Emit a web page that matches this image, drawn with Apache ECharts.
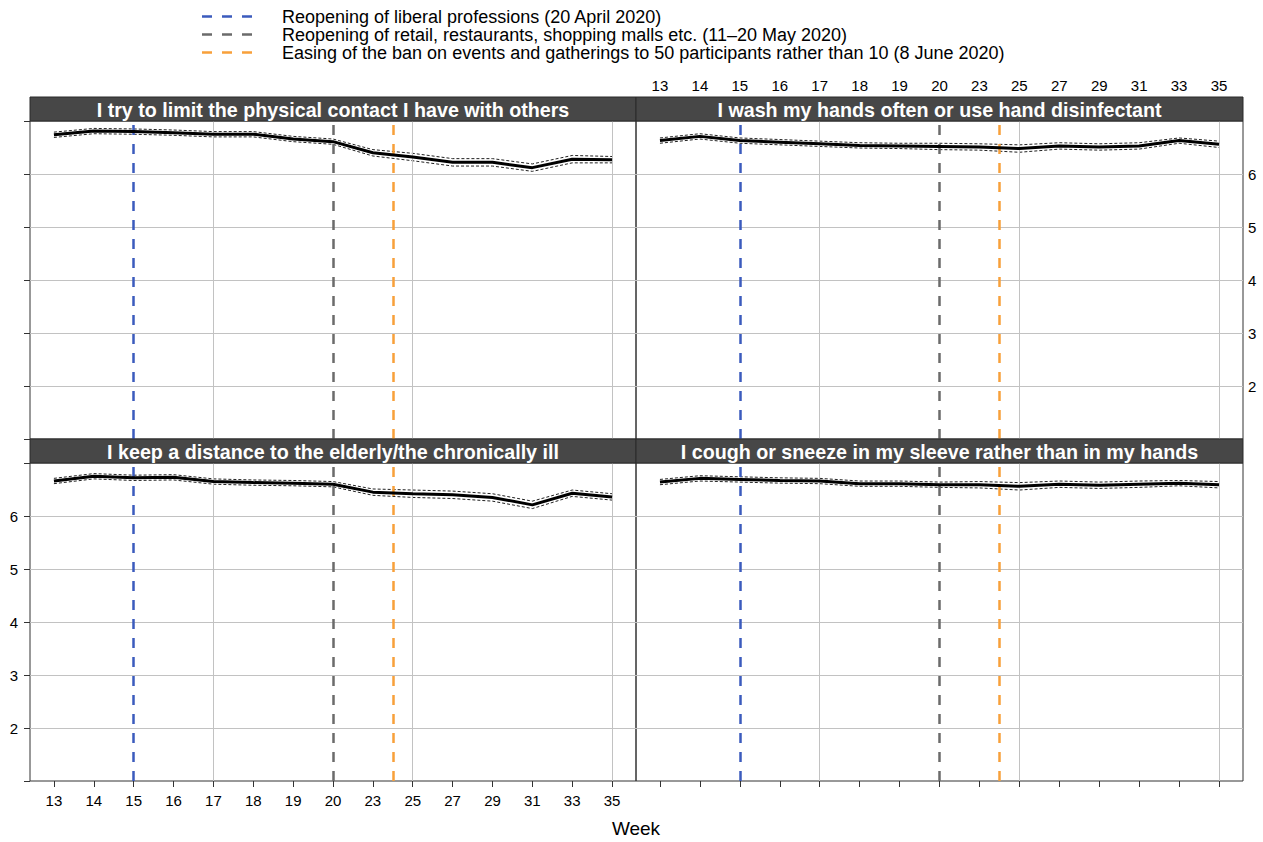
<!DOCTYPE html>
<html>
<head>
<meta charset="utf-8">
<script src="https://cdn.jsdelivr.net/npm/echarts@6/dist/echarts.min.js"></script>
<style>
html,body{margin:0;padding:0;background:#fff;}
#chart{width:1263px;height:842px;}
</style>
</head>
<body>
<div id="chart"></div>
<script>
// ---------- data ----------
const weeks = ['13','14','15','16','17','18','19','20','23','25','27','29','31','33','35'];

const panelTitles = [
  'I try to limit the physical contact I have with others',
  'I wash my hands often or use hand disinfectant',
  'I keep a distance to the elderly/the chronically ill',
  'I cough or sneeze in my sleeve rather than in my hands'
];

const physicalContact   = [6.74, 6.81, 6.80, 6.78, 6.75, 6.75, 6.66, 6.61, 6.40, 6.32, 6.22, 6.22, 6.12, 6.28, 6.27];
const physicalContactCI = [0.05, 0.05, 0.05, 0.05, 0.05, 0.05, 0.05, 0.05, 0.06, 0.07, 0.07, 0.07, 0.07, 0.07, 0.06];

const washHands   = [6.63, 6.71, 6.63, 6.60, 6.57, 6.54, 6.53, 6.52, 6.51, 6.48, 6.53, 6.51, 6.53, 6.63, 6.56];
const washHandsCI = [0.05, 0.05, 0.05, 0.05, 0.05, 0.05, 0.05, 0.06, 0.06, 0.07, 0.06, 0.06, 0.06, 0.05, 0.06];

const keepDistance   = [6.66, 6.75, 6.72, 6.73, 6.65, 6.63, 6.62, 6.60, 6.45, 6.42, 6.40, 6.35, 6.21, 6.43, 6.36];
const keepDistanceCI = [0.05, 0.05, 0.05, 0.05, 0.05, 0.05, 0.05, 0.05, 0.06, 0.07, 0.07, 0.07, 0.07, 0.06, 0.06];

const coughSleeve   = [6.64, 6.71, 6.69, 6.67, 6.66, 6.61, 6.61, 6.59, 6.59, 6.56, 6.60, 6.58, 6.60, 6.62, 6.59];
const coughSleeveCI = [0.05, 0.05, 0.05, 0.05, 0.05, 0.05, 0.05, 0.05, 0.06, 0.07, 0.06, 0.06, 0.06, 0.05, 0.06];

const eventNames = [
  'Reopening of liberal professions (20 April 2020)',
  'Reopening of retail, restaurants, shopping malls etc. (11\u201320 May 2020)',
  'Easing of the ban on events and gatherings to 50 participants rather than 10 (8 June 2020)'
];
// event positions on the week-index axis (week 15, week 20, week 24 = between 23 and 25)
const eventX = [3, 8, 9.5];
// vertical reference grid on the week-index axis
const xGridAt = [5, 10, 15];

// ---------- styling / layout ----------
const FONT = '"Liberation Sans", Arial, Helvetica, sans-serif';
const eventColors = ['#3b5bbd', '#6b6b6b', '#f8a03a'];
const gridColor = '#c2c2c2';
const panels = [
  {left: 30, top: 121, width: 606, height: 318},
  {left: 636, top: 121, width: 607, height: 318},
  {left: 30, top: 463, width: 606, height: 318},
  {left: 636, top: 463, width: 607, height: 318}
];
const seriesData = [
  [physicalContact, physicalContactCI],
  [washHands, washHandsCI],
  [keepDistance, keepDistanceCI],
  [coughSleeve, coughSleeveCI]
];
const idx = weeks.map((w, i) => i + 1);
const STRIP_H = 24;

const grid = panels.map(p => ({
  left: p.left, top: p.top, width: p.width, height: p.height,
  show: true, borderColor: '#333', borderWidth: 1, backgroundColor: 'transparent',
  containLabel: false
}));

const xAxis = panels.map((p, i) => ({
  gridIndex: i, type: 'value', min: 0.4, max: 15.6,
  position: i === 1 ? 'top' : 'bottom',
  axisLine: {show: false},
  axisTick: {show: i >= 2, length: 6, lineStyle: {color: '#333', width: 1}, customValues: idx},
  axisLabel: {
    show: i === 1 || i === 2, customValues: idx,
    formatter: v => weeks[Math.round(v) - 1] || '',
    margin: i === 1 ? 28 : 12, fontSize: 15, color: '#000', fontFamily: FONT
  },
  splitLine: {show: false}
}));

const yAxis = panels.map((p, i) => ({
  gridIndex: i, type: 'value', min: 1, max: 7, interval: 1,
  position: (i === 1 || i === 3) ? 'right' : 'left',
  axisLine: {show: false},
  axisTick: {show: i === 0 || i === 2, length: 6, lineStyle: {color: '#333', width: 1}},
  axisLabel: {
    show: i === 1 || i === 2,
    formatter: v => (v <= 1 || v >= 7) ? '' : String(v),
    margin: i === 1 ? 5 : 12, fontSize: 15, color: '#000', fontFamily: FONT
  },
  splitLine: {show: true, showMinLine: false, showMaxLine: false, lineStyle: {color: gridColor, width: 1}}
}));

const series = [];
panels.forEach((p, i) => {
  const [vals, ci] = seriesData[i];
  // reference lines (grid + events)
  series.push({
    type: 'line', xAxisIndex: i, yAxisIndex: i, data: [], silent: true, z: 1,
    markLine: {
      silent: true, symbol: 'none', animation: false,
      label: {show: false},
      data: xGridAt.map(x => ({xAxis: x, lineStyle: {color: gridColor, width: 1, type: 'solid'}}))
        .concat(eventX.map((x, k) => ({xAxis: x, lineStyle: {color: eventColors[k], width: 2.5, type: [10, 9]}})))
    }
  });
  series.push({
    type: 'line', xAxisIndex: i, yAxisIndex: i, silent: true, z: 4, symbol: 'none', animation: false,
    data: vals.map((v, j) => [j + 1, v + ci[j]]),
    lineStyle: {color: '#222', width: 1, type: [3, 2]}
  });
  series.push({
    type: 'line', xAxisIndex: i, yAxisIndex: i, silent: true, z: 4, symbol: 'none', animation: false,
    data: vals.map((v, j) => [j + 1, v - ci[j]]),
    lineStyle: {color: '#222', width: 1, type: [3, 2]}
  });
  series.push({
    type: 'line', xAxisIndex: i, yAxisIndex: i, silent: true, z: 5, symbol: 'none', animation: false,
    data: vals.map((v, j) => [j + 1, v]),
    lineStyle: {color: '#000', width: 3}
  });
});

const graphic = [];
panels.forEach((p, i) => {
  graphic.push({
    type: 'rect', z: 100, silent: true,
    shape: {x: p.left, y: p.top - STRIP_H, width: p.width, height: STRIP_H},
    style: {fill: '#474747', stroke: '#2a2a2a', lineWidth: 1}
  });
  graphic.push({
    type: 'text', z: 101, silent: true,
    x: p.left + p.width / 2, y: p.top - STRIP_H / 2 + 0.5,
    style: {text: panelTitles[i], fill: '#fff', font: 'bold 19.7px ' + FONT,
            textAlign: 'center', textVerticalAlign: 'middle'}
  });
});
eventNames.forEach((name, k) => {
  const y = 16.5 + 18 * k;
  graphic.push({
    type: 'line', silent: true, z: 100,
    shape: {x1: 202, y1: y, x2: 252, y2: y},
    style: {stroke: eventColors[k], lineWidth: 2.5, lineDash: [10, 10]}
  });
  graphic.push({
    type: 'text', silent: true, z: 100, x: 282, y: y,
    style: {text: name, fill: '#000', font: '18px ' + FONT, textAlign: 'left', textVerticalAlign: 'middle'}
  });
});
graphic.push({
  type: 'text', silent: true, z: 100, x: 636, y: 828,
  style: {text: 'Week', fill: '#000', font: '19px ' + FONT, textAlign: 'center', textVerticalAlign: 'middle'}
});

const chart = echarts.init(document.getElementById('chart'), null, {renderer: 'svg', width: 1263, height: 842});
chart.setOption({
  animation: false,
  backgroundColor: '#fff',
  textStyle: {fontFamily: FONT},
  grid, xAxis, yAxis, series, graphic
});
</script>
</body>
</html>
